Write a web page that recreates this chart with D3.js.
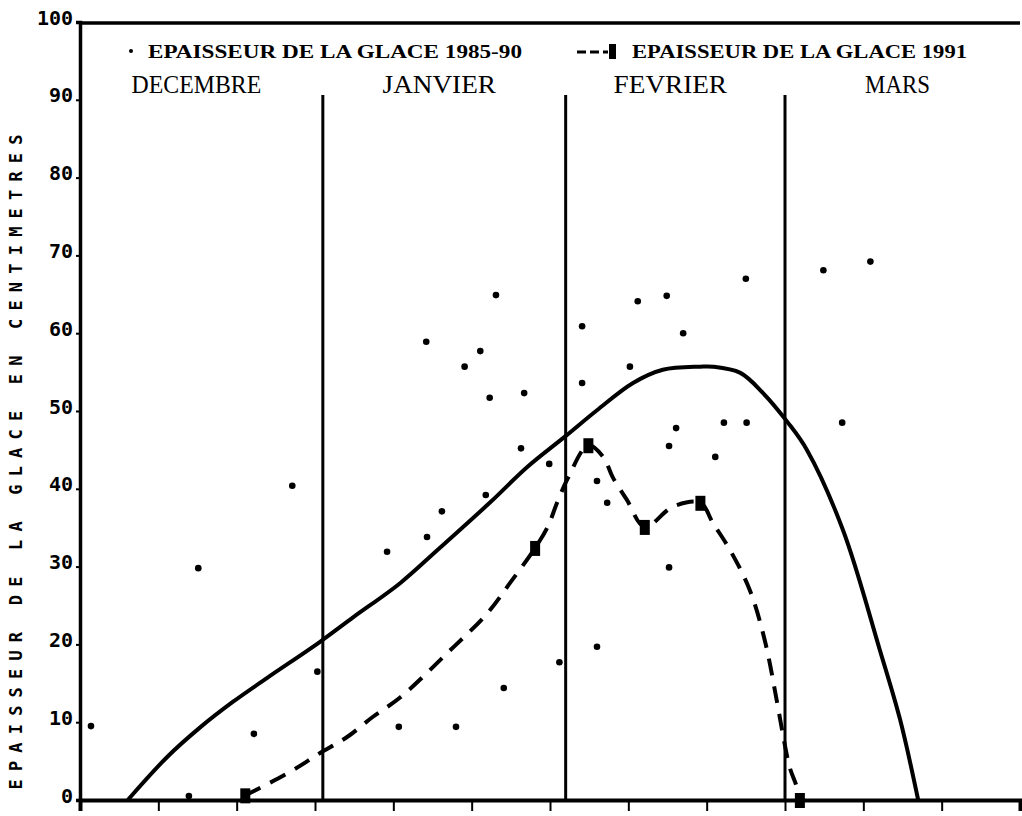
<!DOCTYPE html>
<html>
<head>
<meta charset="utf-8">
<script src="https://cdn.jsdelivr.net/npm/d3@7"></script>
<style>
  html, body { margin: 0; padding: 0; background: #fff; }
  svg { display: block; }
</style>
</head>
<body>
<svg id="chart" width="1022" height="816"></svg>
<script>
// ---- Data (x = days since 1 December, y = ice thickness in cm) ----
const months = ["DECEMBRE", "JANVIER", "FEVRIER", "MARS"];
const monthStarts = [0, 31, 62, 90];
const monthEnds = [31, 62, 90, 120];
const yTicks = [0, 10, 20, 30, 40, 50, 60, 70, 80, 90, 100];
const xTicks = [0, 10, 20, 30, 40, 50, 60, 70, 80, 90, 100, 110, 120];

// Individual measurements 1985-90 (dots)
const scatterDays = [1.4, 13.9, 15.1, 22.2, 27.1, 30.3, 39.2, 40.7, 44.2, 44.3, 46.2, 48.0, 49.1,
  51.1, 51.8, 52.3, 53.1, 54.1, 56.3, 56.7, 59.9, 61.2, 64.1, 64.1, 66.0, 66.0, 67.3,
  70.2, 71.2, 74.9, 75.2, 75.2, 76.1, 77.0, 81.1, 82.2, 85.0, 85.1, 94.9, 97.3, 100.9];
const scatterValues = [9.5, 0.5, 29.8, 8.5, 40.4, 16.5, 31.9, 9.4, 58.9, 33.8, 37.1, 9.4, 55.7,
  57.7, 39.2, 51.7, 64.9, 14.4, 45.2, 52.3, 43.2, 17.7, 60.9, 53.6, 41.0, 19.7, 38.2,
  55.7, 64.1, 64.8, 45.5, 29.9, 47.8, 60.0, 44.1, 48.5, 67.0, 48.5, 68.1, 48.5, 69.2];

// Mean curve 1985-90 (solid)
const meanDays = [6.1, 11.1, 15.3, 19.5, 23.9, 30.6, 34.9, 40.9, 45.6, 52.3, 57.1, 61.9, 66.0,
  70.6, 74.4, 79.2, 80.8, 84.3, 87.2, 90.3, 92.8, 97.4, 102.1, 104.7, 107.0];
const meanValues = [0, 5.5, 9.3, 12.6, 15.7, 20.3, 23.5, 27.9, 32.1, 38.2, 42.8, 46.7, 50.1,
  53.6, 55.3, 55.7, 55.7, 54.9, 52.3, 48.6, 45.0, 34.7, 19.3, 10.3, 0];

// 1991 curve (dashed)
const curve91Days = [21.1, 26.8, 30.6, 34.1, 37.4, 40.9, 46.9, 52.0, 54.9, 58.1, 59.7, 60.9, 62.3,
  64.9, 66.8, 68.0, 69.8, 72.1, 75.7, 79.2, 80.8, 83.0, 85.5, 87.4, 89.0, 89.7, 90.6, 91.5, 91.9];
const curve91Values = [0.6, 3.6, 6.0, 8.1, 10.7, 13.2, 18.9, 24.0, 27.9, 32.4, 35.1, 38.2, 41.4,
  45.6, 44.1, 41.5, 38.6, 35.1, 37.7, 38.2, 35.6, 32.1, 27.0, 20.6, 12.5, 8.6, 4.2, 1.7, 0];

// 1991 measurements (squares)
const square91Days = [21.1, 58.1, 64.9, 72.1, 79.2, 91.9];
const square91Values = [0.6, 32.4, 45.6, 35.1, 38.2, 0];

const legendDots = "EPAISSEUR DE LA GLACE 1985-90";
const legend91 = "EPAISSEUR DE LA GLACE 1991";
const yTitle = "EPAISSEUR DE LA GLACE EN CENTIMETRES";

// ---- Drawing ----
const svg = d3.select("#chart");
const x = d3.scaleLinear().domain([0, 120]).range([80, 1020]);
const y = d3.scaleLinear().domain([0, 100]).range([800, 22]);

const ink = "#000";
const serif = "Liberation Serif, DejaVu Serif, serif";

// Month separators
svg.append("g").selectAll("line").data(monthStarts.slice(1)).join("line")
  .attr("x1", d => x(d)).attr("x2", d => x(d))
  .attr("y1", 95).attr("y2", y(0))
  .attr("stroke", ink).attr("stroke-width", 3);

// Month labels
svg.append("g").selectAll("text").data(months).join("text")
  .attr("x", (d, i) => (x(monthStarts[i]) + x(monthEnds[i])) / 2 - 5)
  .attr("y", 93)
  .attr("text-anchor", "middle")
  .attr("font-family", serif)
  .attr("font-size", 25)
  .attr("textLength", d => d.length * 16.2)
  .attr("lengthAdjust", "spacingAndGlyphs")
  .attr("fill", ink)
  .text(d => d);

// Axes
const xAxis = d3.axisBottom(x).tickValues(xTicks).tickSize(11).tickFormat("");
const gx = svg.append("g").attr("transform", `translate(0,${y(0)})`).call(xAxis);
gx.select(".domain").attr("stroke", ink).attr("stroke-width", 4);
gx.selectAll(".tick line").attr("stroke", ink).attr("stroke-width", 2);

const yAxis = d3.axisLeft(y).tickValues(yTicks).tickSize(4).tickFormat(d3.format("d")).tickPadding(3);
const gy = svg.append("g").attr("transform", `translate(${x(0)},0)`).call(yAxis);
gy.select(".domain").attr("stroke", ink).attr("stroke-width", 3.5);
gy.selectAll(".tick line").attr("stroke", ink).attr("stroke-width", 2);
gy.selectAll(".tick text")
  .attr("font-family", "DejaVu Sans Mono, monospace")
  .attr("font-weight", "bold")
  .attr("font-size", 20)
  .attr("fill", ink)
  .attr("dy", "0.1em");

// Top frame line
svg.append("line")
  .attr("x1", x(0)).attr("x2", x(120))
  .attr("y1", y(100) + 1).attr("y2", y(100) + 1)
  .attr("stroke", ink).attr("stroke-width", 3.5);

// Mean curve (solid)
const meanPts = meanDays.map((d, i) => [d, meanValues[i]]);
const line = d3.line().x(d => x(d[0])).y(d => y(d[1])).curve(d3.curveCatmullRom.alpha(0.5));
svg.append("path").datum(meanPts)
  .attr("d", line)
  .attr("fill", "none").attr("stroke", ink).attr("stroke-width", 4)
  .attr("stroke-linejoin", "round");

// 1991 curve (dashed)
const pts91 = curve91Days.map((d, i) => [d, curve91Values[i]]);
svg.append("path").datum(pts91)
  .attr("d", line)
  .attr("fill", "none").attr("stroke", ink).attr("stroke-width", 4)
  .attr("stroke-dasharray", "17,11");

// Squares 1991
svg.append("g").selectAll("rect").data(square91Days).join("rect")
  .attr("x", d => x(d) - 5)
  .attr("y", (d, i) => y(square91Values[i]) - 7)
  .attr("width", 10).attr("height", 15)
  .attr("fill", ink);

// Scatter dots
svg.append("g").selectAll("circle").data(scatterDays).join("circle")
  .attr("cx", d => x(d))
  .attr("cy", (d, i) => y(scatterValues[i]))
  .attr("r", 3.3)
  .attr("fill", ink);

// Legend
svg.append("circle").attr("cx", 131).attr("cy", 51).attr("r", 2).attr("fill", ink);
svg.append("text")
  .attr("x", 148).attr("y", 58)
  .attr("font-family", serif).attr("font-weight", "bold").attr("font-size", 19)
  .attr("textLength", 374).attr("lengthAdjust", "spacingAndGlyphs")
  .attr("fill", ink).text(legendDots);

svg.append("line").attr("x1", 577).attr("x2", 608).attr("y1", 52).attr("y2", 52)
  .attr("stroke", ink).attr("stroke-width", 3).attr("stroke-dasharray", "9,4");
svg.append("rect").attr("x", 609).attr("y", 44).attr("width", 7).attr("height", 15).attr("fill", ink);
svg.append("text")
  .attr("x", 632).attr("y", 58)
  .attr("font-family", serif).attr("font-weight", "bold").attr("font-size", 19)
  .attr("textLength", 335).attr("lengthAdjust", "spacingAndGlyphs")
  .attr("fill", ink).text(legend91);

// Y-axis title
svg.append("text")
  .attr("transform", "translate(22,462) rotate(-90)")
  .attr("text-anchor", "middle")
  .attr("font-family", "DejaVu Sans Mono, monospace")
  .attr("font-weight", "bold").attr("font-size", 17)
  .attr("textLength", 655).attr("lengthAdjust", "spacing")
  .attr("fill", ink).text(yTitle);
</script>
</body>
</html>
